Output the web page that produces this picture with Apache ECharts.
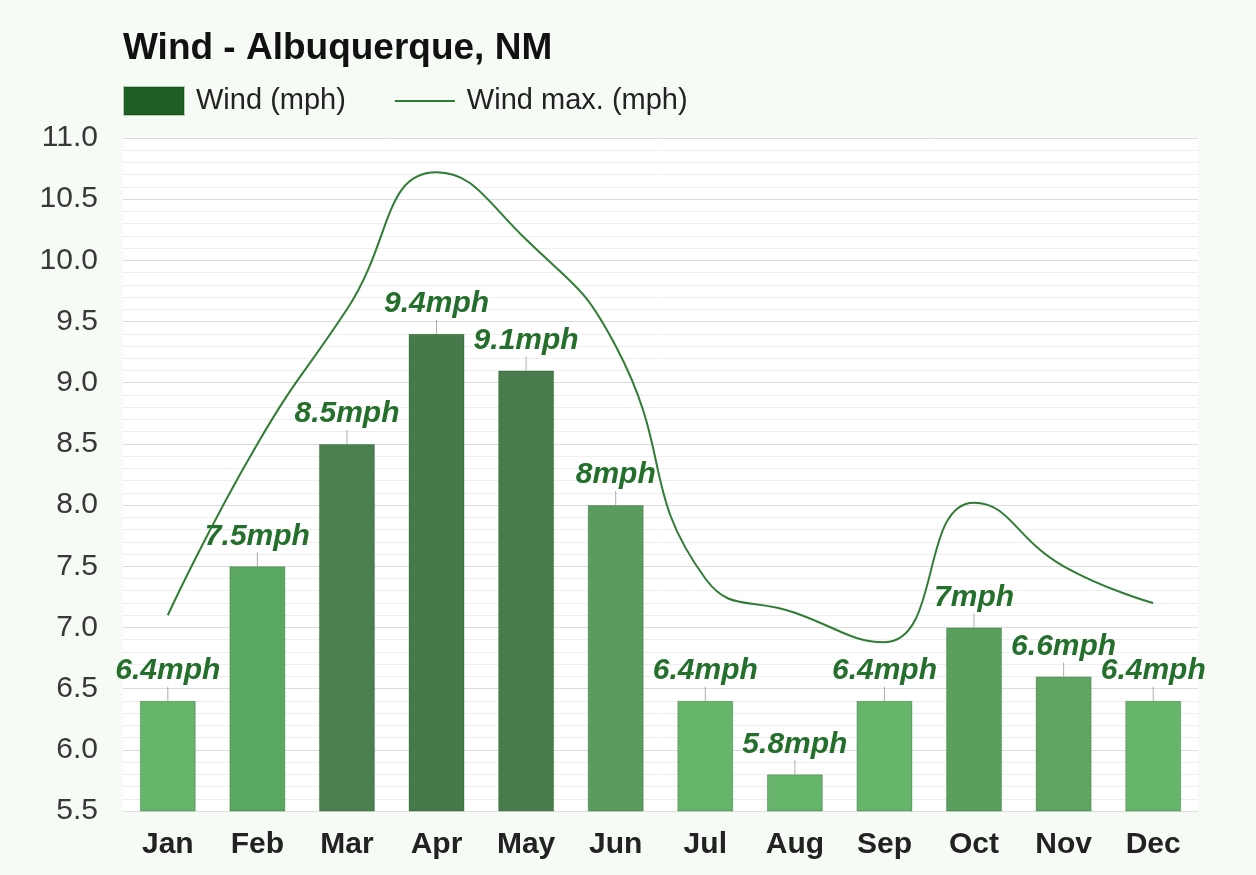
<!DOCTYPE html>
<html>
<head>
<meta charset="utf-8">
<script src="https://cdn.jsdelivr.net/npm/echarts@6/dist/echarts.min.js"></script>
<style>
html,body{margin:0;padding:0;background:#ffffff;}
#c{width:1256px;height:875px;}
</style>
</head>
<body>
<div id="c"></div>
<script>
const categories = ['Jan','Feb','Mar','Apr','May','Jun','Jul','Aug','Sep','Oct','Nov','Dec'];
const windValues = [6.4, 7.5, 8.5, 9.4, 9.1, 8, 6.4, 5.8, 6.4, 7, 6.6, 6.4];
const windMaxValues = [7.1, 8.5, 9.6, 10.72, 10.17, 9.3, 7.4, 7.12, 6.88, 8.02, 7.5, 7.2];
const barColors = ['#67b46b','#5ba960','#4a7f4f','#467a4b','#487c4d','#5a9c5e','#67b46b','#67b46b','#67b46b','#59a05d','#5ea662','#67b46b'];

const chart = echarts.init(document.getElementById('c'), null, {renderer:'canvas'});
const font = '"Liberation Sans", Arial, Helvetica, sans-serif';
chart.setOption({
  backgroundColor: '#f7fbf6',
  animation: false,
  textStyle: {fontFamily: font},
  title: {
    text: 'Wind - Albuquerque, NM',
    left: 118, top: 25,
    textStyle: {fontSize: 37, fontWeight: 'bold', color: '#111', fontFamily: font}
  },
  legend: {
    left: 123, top: 86, padding: 0,
    itemWidth: 60, itemHeight: 28, itemGap: 48,
    data: [
      {name: 'Wind (mph)', icon: 'rect'},
      {name: 'Wind max. (mph)', itemStyle: {opacity: 0}}
    ],
    textStyle: {fontSize: 29, color: '#222', fontFamily: font, padding: [0,0,0,7]}
  },
  grid: {left: 123, right: 58, top: 138, bottom: 64, show: true, backgroundColor: '#ffffff', borderWidth: 0},
  xAxis: {
    type: 'category',
    data: categories,
    axisLine: {show: false},
    axisTick: {show: false},
    axisLabel: {fontSize: 30, fontWeight: 'bold', color: '#222', margin: 19, fontFamily: font}
  },
  yAxis: {
    type: 'value',
    min: 5.5, max: 11, interval: 0.5,
    axisLine: {show: false},
    axisTick: {show: false},
    axisLabel: {fontSize: 30, color: '#383838', margin: 25, fontFamily: font,
      formatter: v => v.toFixed(1)},
    splitLine: {lineStyle: {color: '#dcdcdc', width: 1}},
    minorTick: {show: false, splitNumber: 5},
    minorSplitLine: {show: true, lineStyle: {color: '#eeeeee', width: 1}}
  },
  series: [
    {
      name: 'Wind (mph)',
      type: 'bar',
      barWidth: 56,
      data: windValues.map((v, i) => ({value: v, itemStyle: {color: barColors[i]}})),
      itemStyle: {color: '#1f5f23', borderColor: 'rgba(0,60,0,0.25)', borderWidth: 1},
      label: {
        show: true, position: 'top', distance: 15,
        formatter: p => p.value + 'mph',
        fontSize: 30, fontWeight: 'bold', fontStyle: 'italic', color: '#236f2b', fontFamily: font
      },
      z: 2
    },
    {
      name: 'ticks',
      type: 'scatter',
      data: windValues,
      symbol: 'rect',
      symbolSize: [1, 14],
      symbolOffset: [0, -7],
      itemStyle: {color: '#999999'},
      silent: true,
      z: 3
    },
    {
      name: 'Wind max. (mph)',
      type: 'line',
      data: windMaxValues,
      smooth: 0.5,
      symbol: 'none',
      lineStyle: {color: '#2f7d34', width: 2},
      itemStyle: {color: '#2f7d34'},
      z: 4
    }
  ]
});
</script>
</body>
</html>
